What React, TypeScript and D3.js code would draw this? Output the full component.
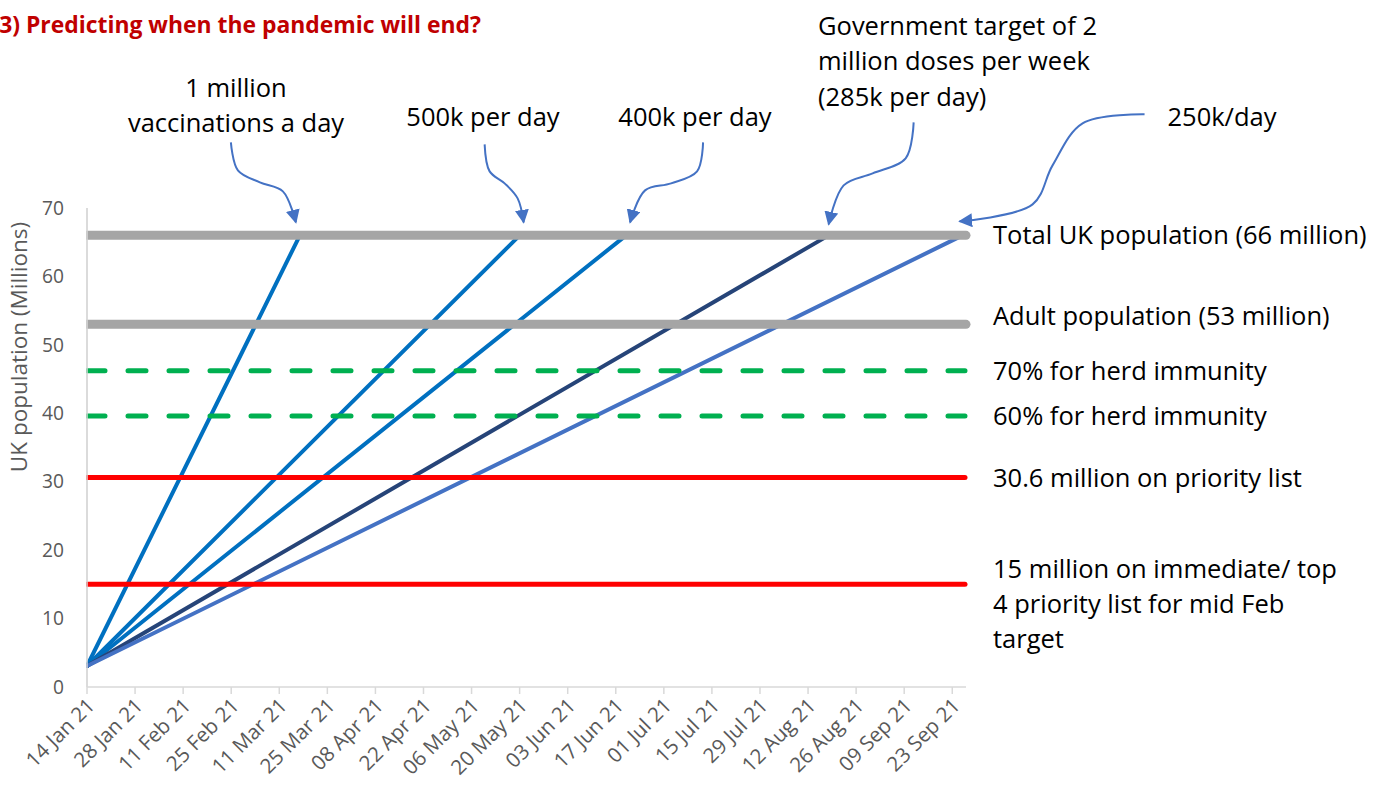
import React from 'react';
import * as d3 from 'd3';

const W = 1383;
const H = 790;

// x axis tick labels (every 14 days)
const tickLabels = [
  '14 Jan 21', '28 Jan 21', '11 Feb 21', '25 Feb 21', '11 Mar 21', '25 Mar 21',
  '08 Apr 21', '22 Apr 21', '06 May 21', '20 May 21', '03 Jun 21', '17 Jun 21',
  '01 Jul 21', '15 Jul 21', '29 Jul 21', '12 Aug 21', '26 Aug 21', '09 Sep 21', '23 Sep 21'
];
const yTicks = [0, 10, 20, 30, 40, 50, 60, 70];

// vaccination roll-out scenarios: straight line from start to end
const startDate = '2021-01-14';
const startValue = 3.07;
const scenarioNames = ['1m', '500k', '400k', '285k', '250k'];
const scenarioEndDates = ['2021-03-17', '2021-05-20', '2021-06-20', '2021-08-18', '2021-09-26'];
const scenarioEndValues = [66, 66, 66, 66, 66];
const scenarioColors = ['#0070C0', '#0070C0', '#0070C0', '#264478', '#4472C4'];

// reference lines
const refValues = [66, 53, 46.2, 39.6, 30.6, 15];
const refLabels = [
  ['Total UK population (66 million)'],
  ['Adult population (53 million)'],
  ['70% for herd immunity'],
  ['60% for herd immunity'],
  ['30.6 million on priority list'],
  ['15 million on immediate/ top', '4 priority list for mid Feb', 'target']
];
const refColors = ['#A5A5A5', '#A5A5A5', '#00B050', '#00B050', '#FF0000', '#FF0000'];

const annotationText = [
  ['1 million', 'vaccinations a day'],
  ['500k per day'],
  ['400k per day'],
  ['Government target of 2', 'million doses per week', '(285k per day)'],
  ['250k/day']
];

const parseIso = d3.timeParse('%Y-%m-%d');
const parseTick = d3.timeParse('%d %b %y');

const App: React.FC = () => {
  const x = d3.scaleTime()
    .domain([parseIso('2021-01-14') as Date, parseIso('2021-09-27') as Date])
    .range([87, 966]);
  const y = d3.scaleLinear().domain([0, 70]).range([687, 208]);

  const font = '"Open Sans", "Noto Sans", sans-serif';
  const start = parseIso(startDate) as Date;

  const line = d3.line<[number, number]>().x(d => d[0]).y(d => d[1]);
  const curve = d3.line<[number, number]>().x(d => d[0]).y(d => d[1]).curve(d3.curveCatmullRom.alpha(0.5));

  // arrow shapes, relative to the end of each scenario line
  const arrowShapes: [number, number][][] = [
    [[-69, -93], [-62, -65], [-40, -53], [-17, -44], [-4, -13]],
    [[-35, -91], [-30, -64], [-15, -52], [-2, -37], [4, -13]],
    [[77, -93], [71, -64], [45, -52], [19, -45], [4, -13]],
    [[85, -113], [77, -77], [44, -62], [15, -50], [0, -11]],
    [[182, -121], [120, -112], [90, -70], [70, -31], [-3, -14]]
  ];
  const annotationPos: [number, number, string][] = [
    [236, 88, 'middle'],
    [483, 117, 'middle'],
    [695, 117, 'middle'],
    [818, 26, 'start'],
    [1222, 117, 'middle']
  ];

  return (
    <svg width={W} height={H} style={{ position: 'absolute', left: 0, top: 0, background: '#fff' }}>
      <defs>
        <marker id="ah" viewBox="0 0 10 10" refX="9" refY="5" markerWidth="7" markerHeight="7" orient="auto">
          <path d="M0,0 L10,5 L0,10 z" fill="#4472C4" />
        </marker>
      </defs>

      <text x={481} y={33} textAnchor="end" fontFamily={font} fontWeight="bold" fontSize={22.9} fill="#C00000">
        3) Predicting when the pandemic will end?
      </text>

      {/* axes */}
      <line x1={87} x2={87} y1={y(70)} y2={y(0)} stroke="#D9D9D9" strokeWidth={1.5} />
      <line x1={87} x2={966} y1={y(0)} y2={y(0)} stroke="#D9D9D9" strokeWidth={1.5} />
      {tickLabels.map(t => {
        const tx = x(parseTick(t) as Date);
        return (
          <g key={t}>
            <line x1={tx} x2={tx} y1={y(0)} y2={y(0) + 7} stroke="#D9D9D9" strokeWidth={1.5} />
            <text transform={`translate(${tx + 9},${y(0) + 20}) rotate(-45)`} textAnchor="end"
              fontFamily={font} fontSize={20.5} fill="#595959">{t}</text>
          </g>
        );
      })}
      {yTicks.map(v => (
        <text key={v} x={64} y={y(v)} dy="0.35em" textAnchor="end" fontFamily={font} fontSize={19.2} fill="#595959">{v}</text>
      ))}
      <text transform={`translate(19,347) rotate(-90)`} dy="0.35em" textAnchor="middle" fontFamily={font} fontSize={22.5} fill="#595959">
        UK population (Millions)
      </text>

      {/* scenario lines */}
      {scenarioNames.map((n, i) => (
        <path key={n}
          d={line([[x(start), y(startValue)], [x(parseIso(scenarioEndDates[i]) as Date), y(scenarioEndValues[i])]]) || ''}
          stroke={scenarioColors[i]} strokeWidth={4} fill="none" strokeLinecap="round" />
      ))}

      {/* reference lines */}
      {refValues.map((v, i) => (
        <line key={v} x1={87} x2={i < 2 ? 966 : 965} y1={y(v)} y2={y(v)}
          stroke={refColors[i]}
          strokeWidth={i < 2 ? 9 : 5}
          strokeLinecap="round"
          strokeDasharray={i === 2 || i === 3 ? '18 23' : undefined} />
      ))}
      <rect x={80} y={200} width={6} height={500} fill="#fff" />
      <line x1={87} x2={87} y1={y(70)} y2={y(0)} stroke="#D9D9D9" strokeWidth={1.5} />

      {refLabels.map((lines, i) => {
        const base = y(refValues[i]) + (i === 1 ? -8 : i === 5 ? -15 : 0);
        return lines.map((l, j) => (
          <text key={`${i}-${j}`} x={993} y={base + j * 35} dy="0.35em" fontFamily={font} fontSize={25.5} fill="#000">{l}</text>
        ));
      })}

      {/* annotations with arrows */}
      {annotationText.map((lines, i) => {
        const ex = x(parseIso(scenarioEndDates[i]) as Date);
        const ey = y(scenarioEndValues[i]);
        const pts = arrowShapes[i].map(([dx, dy]) => [ex + dx, ey + dy] as [number, number]);
        const [ax, ay, anchor] = annotationPos[i];
        return (
          <g key={i}>
            <path d={curve(pts) || ''} stroke="#4472C4" strokeWidth={2} fill="none" markerEnd="url(#ah)" />
            {lines.map((l, j) => (
              <text key={j} x={ax} y={ay + j * 35.5} dy="0.35em" textAnchor={anchor as any}
                fontFamily={font} fontSize={25.5} fill="#000">{l}</text>
            ))}
          </g>
        );
      })}
    </svg>
  );
};

export default App;
